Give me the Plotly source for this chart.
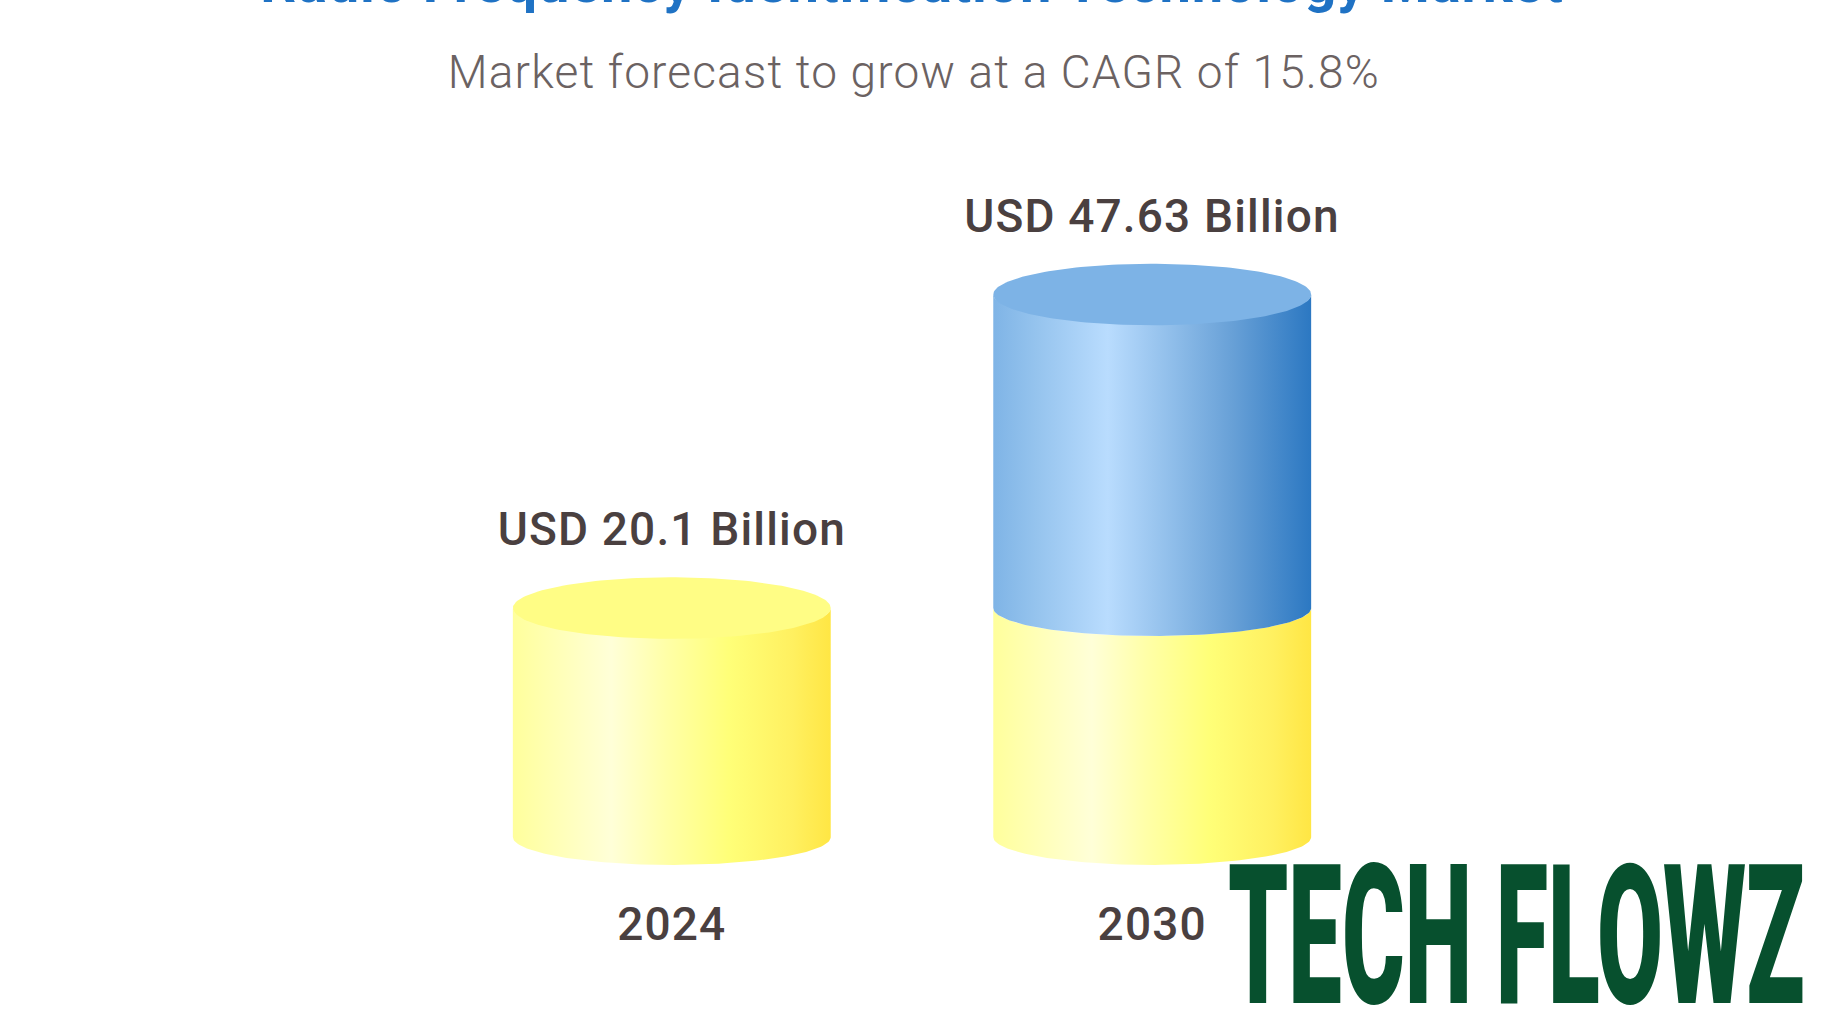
import numpy as np
import plotly.graph_objects as go

TITLE = "Radio Frequency Identification Technology Market"
SUBTITLE = "Market forecast to grow at a CAGR of 15.8%"
WATERMARK = "TECH FLOWZ"
years = [2024, 2030]
base_values = [20.1, 20.1]
forecast_increment = [None, 27.53]
value_labels = ["USD 20.1 Billion", "USD 47.63 Billion"]

W, H = 1824, 1026
M_BOTTOM = 146
RX = 1.985      # cylinder half width, in x-axis units
RY = 2.7        # top ellipse half height, in y-axis units
RY_LOW = 2.45   # lower arc half height, in y-axis units
XRANGE = [2015.61, 2038.39]
YRANGE = [-3.775, 73.49]

YELLOW = [[0, "#FFFF9C"], [0.31, "#FFFFD8"], [0.48, "#FFFFA8"], [0.68, "#FFFF78"], [0.88, "#FFF060"], [1, "#FFE644"]]
BLUE = [[0, "#7FB4E6"], [0.14, "#96C4EE"], [0.36, "#B9DCFE"], [0.56, "#90BEEA"], [0.76, "#669FD6"], [1, "#2C78C2"]]
YELLOW_TOP = "#FFFD85"
BLUE_TOP = "#7DB3E6"
LABEL = "#4A4040"

theta = np.linspace(0, np.pi, 90)


def body(x, low, high):
    xs = np.concatenate([x + RX * np.cos(theta[::-1]), x + RX * np.cos(theta)])
    ys = np.concatenate([low - RY_LOW * np.sin(theta[::-1]), high - RY_LOW * np.sin(theta)])
    return xs, ys


def top(x, y):
    t = np.linspace(0, 2 * np.pi, 180)
    return x + RX * np.cos(t), y + RY * np.sin(t)


fig = go.Figure()


def add_body(x, low, high, scale, name):
    xs, ys = body(x, low, high)
    fig.add_trace(go.Scatter(x=xs, y=ys, mode="lines", line=dict(width=0), fill="toself",
                             fillgradient=dict(type="horizontal", colorscale=scale),
                             name=name, hoverinfo="skip"))


def add_top(x, y, color, name):
    xs, ys = top(x, y)
    fig.add_trace(go.Scatter(x=xs, y=ys, mode="lines", line=dict(width=0), fill="toself",
                             fillcolor=color, name=name, hoverinfo="skip"))


add_body(years[0], 0, base_values[0], YELLOW, "2024")
add_top(years[0], base_values[0], YELLOW_TOP, "2024 top")
add_body(years[1], 0, base_values[1], YELLOW, "2030 base")
total = base_values[1] + forecast_increment[1]
add_body(years[1], base_values[1], total, BLUE, "2030 growth")
add_top(years[1], total, BLUE_TOP, "2030 top")

annotations = []
for x, v, s in zip(years, [base_values[0], total], value_labels):
    annotations.append(dict(x=x, y=v, xref="x", yref="y", text=s, showarrow=False, yshift=79, yanchor="middle",
                            font=dict(family="Roboto", size=46, color=LABEL, weight=500)))
annotations.append(dict(x=914 / W, y=(H - M_BOTTOM - 72) / (H - M_BOTTOM), xref="paper", yref="paper",
                        text=SUBTITLE, showarrow=False, xanchor="center", yanchor="middle",
                        font=dict(family="Roboto", size=46, color="#6B6262", weight=300)))
annotations.append(dict(x=(1228 + 1804) / 2 / W, y=(H - M_BOTTOM - 936.5) / (H - M_BOTTOM), xref="paper", yref="paper",
                        text=WATERMARK, showarrow=False, xanchor="center", yanchor="middle",
                        font=dict(family="Roboto", size=100, color="#07502E", weight=900)))

fig.update_layout(
    width=W, height=H, margin=dict(l=0, r=0, t=0, b=M_BOTTOM),
    paper_bgcolor="white", plot_bgcolor="white", showlegend=False,
    title=dict(text=TITLE, x=912 / W, xanchor="center", y=1 - 2 / H, yanchor="bottom", yref="container",
               font=dict(family="Roboto", size=56, color="#1F72C4", weight=700)),
    xaxis=dict(range=XRANGE, tickmode="array", tickvals=years, ticktext=[str(y) for y in years],
               showgrid=False, zeroline=False, showline=False, ticks="", ticklabelstandoff=13,
               tickfont=dict(family="Roboto", size=46, color=LABEL, weight=500)),
    yaxis=dict(range=YRANGE, visible=False),
    annotations=annotations,
)

POST = """
document.body.style.margin = '0';
document.body.style.overflow = 'hidden';
var st = document.createElement('style');
st.textContent = '.annotation-text, .xtick text {letter-spacing: 1.15px;} .gtitle {letter-spacing: 0.8px;}';
document.head.appendChild(st);
document.querySelectorAll('.annotation-text').forEach(function (t) {
  if (t.textContent === 'TECH FLOWZ') {
    t.style.letterSpacing = '0';
    var b = t.getBBox();
    var cx = b.x + b.width / 2, cy = b.y + b.height / 2;
    t.setAttribute('transform', 'translate(' + cx + ',' + cy + ') scale(0.957,1.94) translate(' + (-cx) + ',' + (-cy) + ')');
  }
});
"""
fig.write_html("out.html", post_script=POST, config=dict(displayModeBar=False))
